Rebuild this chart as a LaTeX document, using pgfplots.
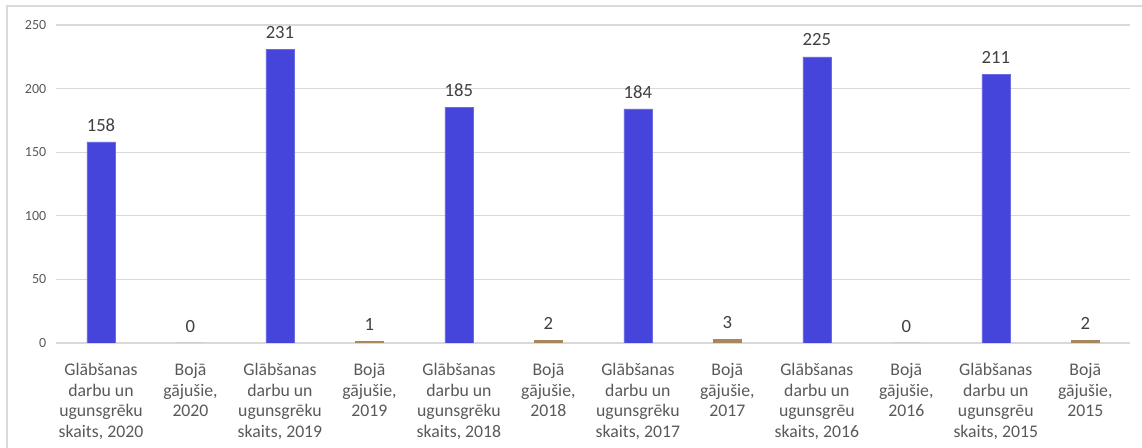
\documentclass[border=0pt]{standalone}
\usepackage{fontspec}
\setmainfont{Carlito}
\usepackage{pgfplots}
\pgfplotsset{compat=1.18}

\definecolor{barblue}{HTML}{4545DB}
\definecolor{barbrown}{HTML}{A8865E}
\definecolor{gridgray}{HTML}{D9D9D9}
\definecolor{ticktext}{HTML}{595959}
\definecolor{labeltext}{HTML}{404040}

\begin{document}
\begin{tikzpicture}
\begin{axis}[
  name=ax,
  scale only axis,
  width=805.5pt, height=238.5pt,
  xmin=-0.5, xmax=11.5,
  ymin=0, ymax=250,
  ytick={0,50,...,250},
  xtick={0,...,11},
  xticklabels={
    {Glābšanas\\darbu un\\ugunsgrēku\\skaits, 2020},
    {Bojā\\gājušie,\\2020},
    {Glābšanas\\darbu un\\ugunsgrēku\\skaits, 2019},
    {Bojā\\gājušie,\\2019},
    {Glābšanas\\darbu un\\ugunsgrēku\\skaits, 2018},
    {Bojā\\gājušie,\\2018},
    {Glābšanas\\darbu un\\ugunsgrēku\\skaits, 2017},
    {Bojā\\gājušie,\\2017},
    {Glābšanas\\darbu un\\ugunsgrēu\\skaits, 2016},
    {Bojā\\gājušie,\\2016},
    {Glābšanas\\darbu un\\ugunsgrēu\\skaits, 2015},
    {Bojā\\gājušie,\\2015}},
  xticklabel style={align=center, font=\fontsize{13.3}{15.4}\selectfont, text=ticktext, yshift=-12pt},
  yticklabel style={font=\fontsize{10.5}{12}\selectfont, text=ticktext, xshift=-4pt},
  /pgf/number format/assume math mode=true,
  axis line style={draw=none},
  major tick length=0pt,
  ymajorgrids,
  grid style={gridgray, line width=0.9pt},
  ybar,
  bar width=21pt,
  nodes near coords,
  every node near coord/.append style={font=\fontsize{14}{16}\selectfont, text=labeltext, yshift=4.5pt},
]
\addplot[fill=barblue, draw=barblue!80!white, bar shift=0pt]
  coordinates {(0,158) (2,231) (4,185) (6,184) (8,225) (10,211)};
\addplot[fill=barbrown, draw=barbrown, bar shift=0pt]
  coordinates {(1,0) (3,1) (5,2) (7,3) (9,0) (11,2)};
\end{axis}
\draw[gridgray, line width=1.1pt]
  ([xshift=-37pt,yshift=-80pt]ax.south west) -- ([xshift=-37pt,yshift=14.25pt]ax.north west)
  -- ([xshift=12pt,yshift=14.25pt]ax.north east);
\pgfresetboundingbox
\path ([xshift=-42.2pt,yshift=-78.75pt]ax.south west) rectangle ([xshift=9pt,yshift=18.75pt]ax.north east);
\end{tikzpicture}
\end{document}
